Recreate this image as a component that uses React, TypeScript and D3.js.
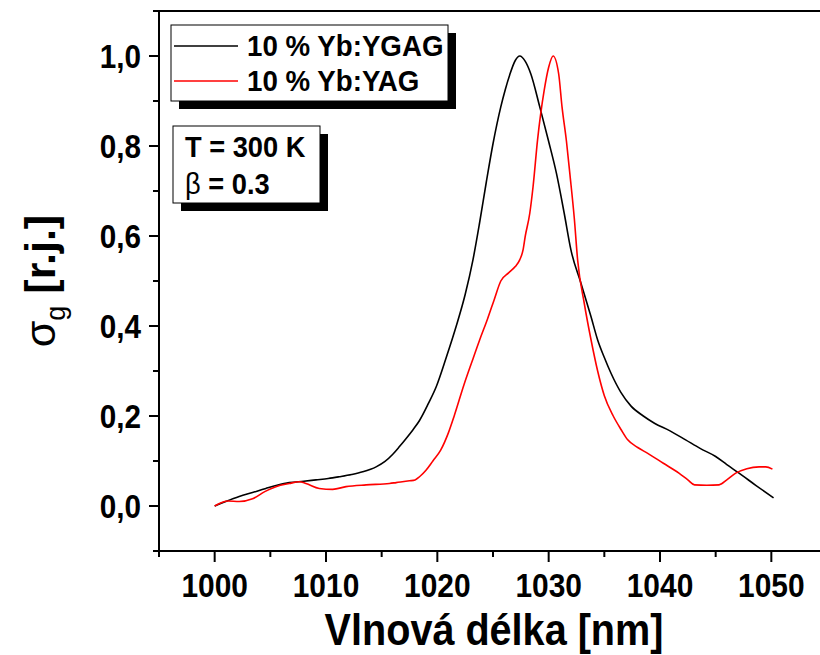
import React from "react";
import * as d3 from "d3";

// Normalised gain cross-section spectra, wavelength in nm
const ygagWavelength = [
  1000.0, 1001.0, 1002.2, 1003.4, 1004.6, 1005.6, 1006.7, 1008.0, 1009.1, 1010.2,
  1011.2, 1012.3, 1013.3, 1014.5, 1015.3, 1016.0, 1016.6, 1017.2, 1017.8, 1018.4,
  1019.2, 1019.9, 1020.8, 1021.7, 1022.5, 1023.2, 1023.8, 1024.4, 1025.0, 1025.7,
  1026.1, 1026.5, 1027.0, 1027.4, 1027.9, 1028.4, 1029.2, 1030.0, 1030.7, 1031.4,
  1032.0, 1032.9, 1033.8, 1034.4, 1035.0, 1035.6, 1036.5, 1037.4, 1038.5, 1039.5,
  1040.9, 1042.3, 1043.6, 1045.0, 1046.0, 1047.1, 1048.6, 1050.2,
];
const ygagSigma = [
  0.0, 0.01, 0.021, 0.03, 0.039, 0.046, 0.052, 0.055, 0.058, 0.061,
  0.065, 0.07, 0.076, 0.087, 0.099, 0.115, 0.132, 0.15, 0.169, 0.19,
  0.228, 0.265, 0.33, 0.4, 0.47, 0.547, 0.63, 0.72, 0.805, 0.887,
  0.925, 0.958, 0.99, 1.0, 0.988, 0.96, 0.887, 0.81, 0.739, 0.65,
  0.569, 0.495, 0.421, 0.369, 0.33, 0.295, 0.252, 0.222, 0.2, 0.184,
  0.167, 0.147, 0.128, 0.11, 0.092, 0.073, 0.046, 0.018,
];

const yagWavelength = [
  1000.0, 1001.2, 1002.2, 1003.4, 1004.5, 1005.5, 1006.7, 1007.6, 1008.2, 1009.4,
  1010.6, 1011.8, 1013.6, 1015.7, 1016.3, 1017.5, 1018.0, 1018.4, 1019.0, 1019.6,
  1020.3, 1021.0, 1021.5, 1022.4, 1023.1, 1023.8, 1024.5, 1025.1, 1025.7, 1026.4,
  1027.0, 1027.4, 1027.7, 1027.9, 1028.3, 1028.6, 1029.0, 1029.6, 1030.0, 1030.4,
  1030.9, 1031.2, 1031.6, 1031.9, 1032.3, 1032.6, 1033.2, 1033.8, 1034.4, 1035.0,
  1035.8, 1036.5, 1037.1, 1038.0, 1038.9, 1040.3, 1041.7, 1042.5, 1043.1, 1044.2,
  1045.3, 1046.0, 1046.8, 1047.8, 1048.9, 1049.5, 1050.1,
];
const yagSigma = [
  0.0, 0.011, 0.01, 0.016, 0.032, 0.043, 0.05, 0.054, 0.05, 0.039,
  0.037, 0.043, 0.047, 0.05, 0.052, 0.056, 0.058, 0.065, 0.08, 0.1,
  0.124, 0.163, 0.199, 0.27, 0.32, 0.369, 0.415, 0.458, 0.5, 0.518,
  0.532, 0.547, 0.569, 0.6, 0.65, 0.71, 0.813, 0.924, 0.975, 1.0,
  0.96, 0.887, 0.81, 0.739, 0.64, 0.547, 0.45, 0.37, 0.3, 0.245,
  0.2, 0.17, 0.147, 0.13, 0.117, 0.095, 0.073, 0.058, 0.047, 0.046,
  0.047, 0.058, 0.073, 0.083, 0.087, 0.087, 0.082,
];

const xMajorTicks = [1000, 1010, 1020, 1030, 1040, 1050];
const xMinorTicks = [995, 1005, 1015, 1025, 1035, 1045, 1055];
const yMajorTicks = [0, 0.2, 0.4, 0.6, 0.8, 1.0];
const yMinorTicks = [-0.1, 0.1, 0.3, 0.5, 0.7, 0.9, 1.1];

const seriesNames = ["10 % Yb:YGAG", "10 % Yb:YAG"];
const seriesColors = ["#000000", "#ff0000"];
const noteLines = ["T = 300 K", "β = 0.3"];

const W = 820;
const H = 655;
const FONT = "'Liberation Sans', Arial, Helvetica, sans-serif";

// Bold text drawn slightly narrower than the font's natural width
function CText(props: {
  x: number;
  y: number;
  size: number;
  sx?: number;
  anchor?: "start" | "middle" | "end";
  weight?: string;
  children: React.ReactNode;
}) {
  const { x, y, size, sx = 1, anchor = "start", weight = "bold", children } = props;
  return (
    <text
      transform={`translate(${x},${y}) scale(${sx},1)`}
      textAnchor={anchor}
      fontSize={size}
      fontWeight={weight}
    >
      {children}
    </text>
  );
}

export default function App() {
  const x = d3.scaleLinear().domain([995, 1055]).range([159, 827]);
  const y = d3.scaleLinear().domain([-0.1, 1.1]).range([551, 11]);

  const line = d3
    .line<[number, number]>()
    .x((d) => x(d[0]))
    .y((d) => y(d[1]))
    .curve(d3.curveMonotoneX);

  const series = [
    d3.zip(ygagWavelength, ygagSigma) as [number, number][],
    d3.zip(yagWavelength, yagSigma) as [number, number][],
  ];

  const fmt = (v: number) => d3.format(".1f")(v).replace(".", ",");

  const x0 = x.range()[0];
  const y0 = y.range()[0];
  const yTop = y.range()[1];

  return (
    <svg
      width={W}
      height={H}
      style={{ position: "absolute", left: 0, top: 0, background: "#fff" }}
      fontFamily={FONT}
    >
      <rect width={W} height={H} fill="#fff" />

      {/* curves */}
      {series.map((s, i) => (
        <path
          key={i}
          d={line(s) ?? ""}
          fill="none"
          stroke={seriesColors[i]}
          strokeWidth={1.6}
          strokeLinejoin="round"
        />
      ))}

      {/* frame: top edge, left and bottom axes */}
      <line x1={x0} x2={W + 10} y1={yTop} y2={yTop} stroke="#000" strokeWidth={2} />
      <line x1={x0} x2={x0} y1={yTop - 1} y2={y0 + 1} stroke="#000" strokeWidth={2} />
      <line x1={x0 - 1} x2={W + 10} y1={y0} y2={y0} stroke="#000" strokeWidth={2} />

      {/* x ticks */}
      {xMajorTicks.map((t) => (
        <g key={"xm" + t}>
          <line x1={x(t)} x2={x(t)} y1={y0} y2={y0 + 11} stroke="#000" strokeWidth={2} />
          <CText x={x(t)} y={597} size={34} sx={0.88} anchor="middle">
            {t}
          </CText>
        </g>
      ))}
      {xMinorTicks.map((t) => (
        <line key={"xn" + t} x1={x(t)} x2={x(t)} y1={y0} y2={y0 + 6} stroke="#000" strokeWidth={2} />
      ))}

      {/* y ticks */}
      {yMajorTicks.map((t) => (
        <g key={"ym" + t}>
          <line x1={x0} x2={x0 - 10} y1={y(t)} y2={y(t)} stroke="#000" strokeWidth={2} />
          <CText x={141} y={y(t) + 12} size={33} sx={0.9} anchor="end">
            {fmt(t)}
          </CText>
        </g>
      ))}
      {yMinorTicks.map((t) => (
        <line key={"yn" + t} x1={x0} x2={x0 - 6} y1={y(t)} y2={y(t)} stroke="#000" strokeWidth={2} />
      ))}

      {/* axis titles */}
      <CText x={494} y={645} size={45} sx={0.88} anchor="middle">
        Vlnová délka [nm]
      </CText>
      <text
        transform="translate(55,281) rotate(-90)"
        textAnchor="middle"
        fontSize={43}
      >
        <tspan fontWeight="normal">σ</tspan>
        <tspan fontSize={27} dy={10} fontWeight="normal">g</tspan>
        <tspan dy={-10} fontWeight="bold"> [r.j.]</tspan>
      </text>

      {/* legend */}
      <rect x={179} y={33} width={277} height={76} fill="#000" />
      <rect x={171} y={25} width={277} height={76} fill="#fff" stroke="#000" strokeWidth={1} />
      {seriesNames.map((name, i) => (
        <g key={name}>
          <line
            x1={174}
            x2={238}
            y1={46 + i * 35}
            y2={46 + i * 35}
            stroke={seriesColors[i]}
            strokeWidth={1.6}
          />
          <CText x={247} y={56 + i * 35} size={29} sx={0.955}>
            {name}
          </CText>
        </g>
      ))}

      {/* conditions box */}
      <rect x={181} y={134} width={147} height={77} fill="#000" />
      <rect x={173} y={126} width={147} height={77} fill="#fff" stroke="#000" strokeWidth={1} />
      <CText x={185} y={157} size={29} sx={0.94}>
        {noteLines[0]}
      </CText>
      <CText x={185} y={194} size={29} sx={0.94}>
        <tspan fontWeight="normal">{noteLines[1].slice(0, 1)}</tspan>
        {noteLines[1].slice(1)}
      </CText>
    </svg>
  );
}
